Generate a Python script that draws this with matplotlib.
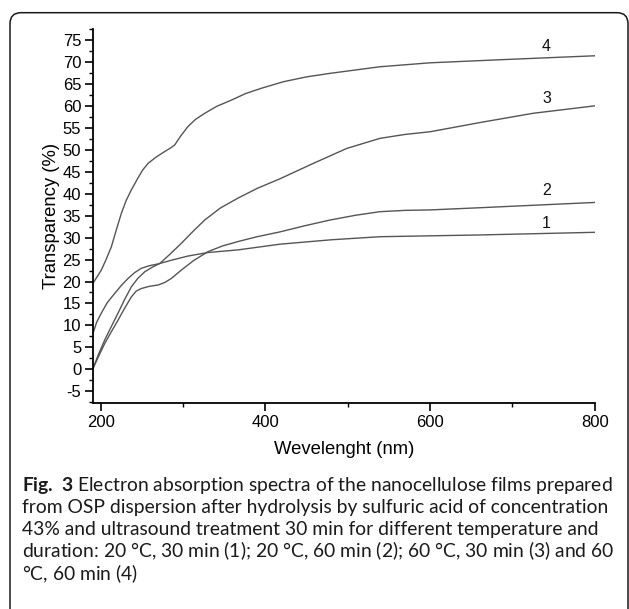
import matplotlib
matplotlib.use("Agg")
import matplotlib.pyplot as plt
from matplotlib.patches import FancyBboxPatch
from matplotlib.transforms import IdentityTransform
from matplotlib.ticker import MultipleLocator

plt.rcParams["axes.unicode_minus"] = False

# Data (wavelength nm, transparency %)
wl_1 = [190.6, 195, 200.7, 208, 217, 225, 233.2, 241, 249.3, 259, 269.6, 287, 306, 330.3, 366.8, 417.8, 480, 539.2, 600, 660.7, 730, 800]
tr_1 = [8.2, 10.7, 12.8, 15.2, 17.3, 19.1, 20.7, 22.0, 23.0, 23.6, 24.0, 24.9, 25.8, 26.6, 27.2, 28.5, 29.5, 30.2, 30.4, 30.6, 30.9, 31.2]

wl_2 = [190.6, 197, 204.9, 213, 221, 229, 237.2, 243, 249.3, 259, 269.6, 278, 285.8, 297.9, 313, 330.3, 348, 366.8, 390, 417.8, 448, 478.5, 510, 539.2, 570, 600, 660.7, 730, 800]
tr_2 = [0.2, 2.8, 5.9, 8.6, 11.2, 13.9, 16.5, 17.8, 18.4, 18.9, 19.2, 19.8, 20.7, 22.6, 24.8, 26.8, 28.1, 29.1, 30.2, 31.3, 32.7, 34.0, 35.1, 35.9, 36.2, 36.3, 36.8, 37.4, 38.0]

wl_3 = [190.6, 197, 204.9, 213, 221, 229, 237.2, 245, 253.4, 262, 271.7, 284, 297.9, 312, 326.3, 345, 366.8, 390, 417.8, 458.2, 498.8, 539.2, 570, 600, 660.7, 725, 800]
tr_3 = [0.2, 3.3, 6.7, 9.8, 12.8, 15.9, 18.8, 20.7, 22.2, 23.2, 24.1, 26.2, 28.7, 31.4, 34.0, 36.7, 39.0, 41.2, 43.4, 46.9, 50.3, 52.6, 53.5, 54.1, 56.2, 58.3, 60.0]

wl_4 = [190.6, 195, 200.7, 206, 212.9, 219, 225, 231, 237, 245.3, 251, 257.5, 267, 277.7, 284, 289.9, 297, 306, 315, 326.3, 341, 358.6, 376, 395, 422, 450, 478.5, 539, 600, 685, 800]
tr_4 = [19.6, 20.9, 22.6, 24.8, 27.9, 31.8, 35.5, 38.5, 40.8, 43.6, 45.4, 46.9, 48.3, 49.6, 50.3, 51.1, 53.1, 55.3, 56.9, 58.3, 59.9, 61.3, 62.8, 64.0, 65.5, 66.6, 67.4, 68.9, 69.8, 70.5, 71.4]

curve_labels = ["1", "2", "3", "4"]
label_x = [741.5, 741.5, 741.5, 741.5]
label_y = [33.3, 40.7, 61.6, 73.5]

fig = plt.figure(figsize=(6.29, 6.09), dpi=100)
ax = fig.add_axes([93 / 629, 1 - 402.7 / 609, (594.7 - 93) / 629, (402.7 - 29) / 609])

line_color = "#555555"
for wl, tr in [(wl_1, tr_1), (wl_2, tr_2), (wl_3, tr_3), (wl_4, tr_4)]:
    ax.plot(wl, tr, color=line_color, lw=1.0)

for lab, x, y in zip(curve_labels, label_x, label_y):
    ax.text(x, y, lab, ha="center", va="center", fontsize=11.5,
            family="Liberation Sans", color="#111111")

ax.set_xlim(190.6, 800)
ax.set_ylim(-7.6, 77.5)
ax.spines["top"].set_visible(False)
ax.spines["right"].set_visible(False)
ax.spines["left"].set_linewidth(1.3)
ax.spines["bottom"].set_linewidth(1.3)

ax.xaxis.set_major_locator(MultipleLocator(200))
ax.xaxis.set_minor_locator(MultipleLocator(100))
ax.yaxis.set_major_locator(MultipleLocator(5))
ax.yaxis.set_minor_locator(MultipleLocator(2.5))
ax.tick_params(which="major", direction="out", length=5.5, width=1.2, labelsize=12, pad=3)
ax.tick_params(which="minor", direction="out", length=3, width=1.0)
for t in ax.get_xticklabels() + ax.get_yticklabels():
    t.set_family("Liberation Sans")

ax.set_xlabel("Wevelenght (nm)", fontsize=13.3, family="Liberation Sans", labelpad=8)
ax.set_ylabel("Transparency (%)", fontsize=13.3, family="Liberation Sans", labelpad=2)

# rounded frame around the figure, open at the bottom
frame = FancyBboxPatch((10, -30), 618, 609 - 12.7 + 30,
                       boxstyle="round,pad=0,rounding_size=11",
                       transform=IdentityTransform(), fill=False,
                       edgecolor="#1a1a1a", lw=1.1)
fig.add_artist(frame)

# caption
plt.rcParams["mathtext.fontset"] = "custom"
plt.rcParams["mathtext.rm"] = "Lato"
plt.rcParams["mathtext.it"] = "DejaVu Sans:italic"
plt.rcParams["mathtext.bf"] = "Lato:bold"
caption = [
    r"$\mathbf{Fig.}$ $\mathbf{3}$ Electron absorption spectra of the nanocellulose films prepared",
    "from OSP dispersion after hydrolysis by sulfuric acid of concentration",
    "43% and ultrasound treatment 30 min for different temperature and",
    r"duration: 20 °C, 30 min ($\mathit{1}$); 20 °C, 60 min ($\mathit{2}$); 60 °C, 30 min ($\mathit{3}$) and 60",
    r"°C, 60 min ($\mathit{4}$)",
]
baselines = [491, 513, 535, 557, 580]
for txt, yb in zip(caption, baselines):
    fig.text(22 / 629, 1 - yb / 609, txt, ha="left", va="baseline",
             fontsize=13.9, family="Lato", color="#1a1a1a")

fig.savefig("out.png", dpi=100)
